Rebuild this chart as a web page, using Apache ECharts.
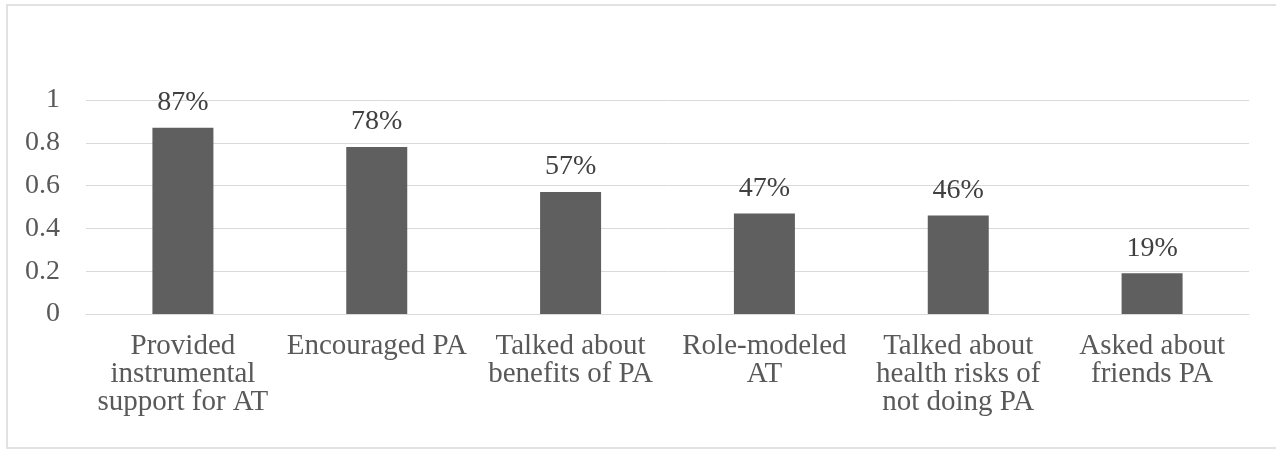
<!DOCTYPE html>
<html>
<head>
<meta charset="utf-8">
<script src="https://cdn.jsdelivr.net/npm/echarts@6/dist/echarts.min.js"></script>
<style>
html,body{margin:0;padding:0;background:#fff;}
#chart{width:1276px;height:449px;}
</style>
</head>
<body>
<div id="chart"></div>
<script>
const categories = [
  "Provided\ninstrumental\nsupport for AT",
  "Encouraged PA",
  "Talked about\nbenefits of PA",
  "Role-modeled\nAT",
  "Talked about\nhealth risks of\nnot doing PA",
  "Asked about\nfriends PA"
];
const values = [0.87, 0.78, 0.57, 0.47, 0.46, 0.19];
const yTicks = [0, 0.2, 0.4, 0.6, 0.8, 1];

const chart = echarts.init(document.getElementById('chart'), null, {renderer: 'canvas'});
const font = '"Liberation Serif", "Times New Roman", serif';
chart.setOption({
  animation: false,
  backgroundColor: '#ffffff',
  graphic: [{
    type: 'rect',
    shape: {x: 7, y: 5, width: 1300, height: 443},
    style: {fill: 'none', stroke: '#d9d9d9', lineWidth: 1.5},
    silent: true
  }],
  grid: {left: 86, right: 27, top: 100, bottom: 135, containLabel: false},
  xAxis: {
    type: 'category',
    data: categories,
    axisLine: {show: true, lineStyle: {color: '#d9d9d9', width: 1}},
    axisTick: {show: false},
    axisLabel: {
      interval: 0,
      color: '#595959',
      fontFamily: font,
      fontSize: 29,
      lineHeight: 28,
      margin: 18,
      align: 'center',
      verticalAlign: 'top'
    }
  },
  yAxis: {
    type: 'value',
    min: yTicks[0],
    max: yTicks[yTicks.length - 1],
    interval: 0.2,
    axisLine: {show: false},
    axisTick: {show: false},
    splitLine: {lineStyle: {color: '#d9d9d9', width: 1}},
    axisLabel: {
      color: '#595959',
      fontFamily: font,
      fontSize: 28,
      margin: 26,
      formatter: function (v) { return String(Math.round(v * 10) / 10); }
    }
  },
  series: [{
    type: 'bar',
    data: values,
    barWidth: 61,
    itemStyle: {color: '#5f5f5f'},
    label: {
      show: true,
      position: 'top',
      distance: 11,
      color: '#404040',
      fontFamily: font,
      fontSize: 28,
      formatter: function (p) { return Math.round(p.value * 100) + '%'; }
    }
  }]
});
</script>
</body>
</html>
